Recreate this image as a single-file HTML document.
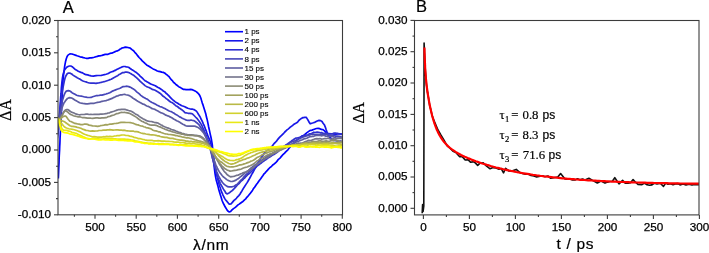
<!DOCTYPE html>
<html><head><meta charset="utf-8"><style>
html,body{margin:0;padding:0;background:#fff;}
svg{display:block;will-change:transform;}
.tl{font-family:"Liberation Sans",sans-serif;font-size:11.7px;fill:#000;stroke:#000;stroke-width:0.25px;}
.lg{font-family:"Liberation Sans",sans-serif;font-size:8px;fill:#000;stroke:#000;stroke-width:0.12px;}
.pl{font-family:"Liberation Sans",sans-serif;font-size:16.5px;fill:#000;stroke:#000;stroke-width:0.2px;}
.yl{font-family:"Liberation Serif",serif;font-size:15.8px;fill:#000;stroke:#000;stroke-width:0.2px;}
.xl{font-family:"Liberation Sans",sans-serif;font-size:15.5px;letter-spacing:0.7px;fill:#000;stroke:#000;stroke-width:0.2px;}
.tau text{font-family:"Liberation Serif",serif;font-size:12.8px;fill:#000;stroke:#000;stroke-width:0.2px;}
.tau text.sb{font-size:8.6px;}
.tau text.ps{font-family:"Liberation Sans",sans-serif;font-size:12px;}
</style></head><body>
<svg width="709" height="253" viewBox="0 0 709 253">
<rect width="709" height="253" fill="#fff"/>
<defs><clipPath id="ca"><rect x="58" y="20.5" width="284.5" height="194.3"/></clipPath><clipPath id="cb"><rect x="414.5" y="20.5" width="284.5" height="194.4"/></clipPath></defs>
<g clip-path="url(#ca)"><polyline points="58.3,178.5 58.4,176.7 58.5,174.7 58.6,172.2 58.7,169.6 58.8,166.6 59.0,163.2 59.1,159.7 59.2,156.7 59.4,153.1 59.6,149.6 59.7,146.5 59.9,143.2 60.0,140.2 60.1,137.2 60.3,134.3 60.4,131.0 60.6,128.1 60.7,125.2 60.9,122.0 61.0,119.0 61.2,116.0 61.3,112.7 61.5,110.1 61.6,107.4 61.8,104.6 61.9,102.0 62.0,100.1 62.2,95.5 62.4,91.9 62.5,88.9 62.6,86.0 62.8,83.3 63.0,80.1 63.3,77.4 63.6,74.5 64.0,71.8 64.3,69.2 64.7,66.2 65.1,63.8 65.5,61.8 66.3,58.7 67.1,56.5 68.0,55.1 69.9,53.9 72.0,54.0 73.5,54.5 76.0,55.4 77.1,55.8 78.5,56.2 80.1,56.8 81.8,57.1 83.4,57.6 85.1,58.0 86.6,58.3 88.0,58.3 89.8,57.9 91.3,57.9 92.7,57.7 94.2,57.3 96.0,56.7 97.3,56.4 98.8,55.9 100.4,55.8 102.0,55.4 103.6,54.9 105.2,54.4 106.7,54.4 108.0,54.3 109.9,53.4 111.6,53.2 113.1,52.6 114.6,51.9 116.0,51.3 117.3,50.9 118.6,50.3 119.8,49.3 120.9,48.7 122.0,48.0 123.7,47.6 125.4,47.1 127.0,47.3 128.5,47.7 130.0,48.0 132.0,49.6 132.8,50.2 133.8,51.0 134.8,52.3 135.8,53.3 136.9,54.7 138.0,56.1 139.1,57.5 140.1,58.5 141.0,59.4 142.5,61.2 143.9,62.4 145.2,63.7 146.6,64.9 148.0,65.7 149.3,66.5 150.5,67.3 151.8,68.1 153.1,68.9 154.5,69.6 156.0,70.3 157.3,71.0 158.7,71.3 160.2,71.6 161.7,72.1 163.2,72.4 164.6,73.0 166.0,74.2 167.0,74.9 168.1,75.9 169.1,76.7 170.0,78.0 171.0,79.3 172.0,80.3 173.0,81.6 174.0,82.8 175.0,83.5 176.3,84.8 177.7,85.8 179.1,86.9 180.5,87.6 181.9,88.5 183.2,89.3 184.5,89.4 186.1,89.6 187.7,89.7 189.1,89.7 190.6,89.4 192.0,89.6 193.5,90.2 195.0,90.9 196.5,91.9 197.8,93.0 199.0,94.3 200.1,96.2 200.9,98.2 201.5,100.4 202.3,103.1 203.0,104.9 203.7,107.2 204.5,109.7 205.2,111.9 205.9,114.3 206.4,116.8 207.0,118.9 207.5,121.1 208.0,123.6 208.5,126.2 209.0,128.5 209.5,130.6 209.9,132.6 210.4,134.9 210.9,137.0 211.4,139.5 211.8,141.9 212.3,144.9 212.5,147.1 212.8,149.5 213.0,151.7 213.2,154.1 213.4,156.5 213.6,159.4 213.8,162.0 214.0,164.9 214.3,167.7 214.6,170.1 214.9,172.5 215.3,175.1 215.7,177.4 216.2,179.9 216.8,182.0 217.4,184.2 218.0,186.4 218.6,188.9 219.2,191.0 219.8,193.0 220.4,195.0 221.0,196.8 221.5,198.4 222.0,200.2 223.2,203.2 224.2,205.0 225.1,206.8 226.0,208.2 227.1,210.2 228.2,211.3 229.3,212.0 230.6,211.5 232.0,209.9 233.5,208.6 234.6,207.9 235.6,207.1 236.7,206.1 238.0,204.9 239.2,204.1 240.4,203.2 241.8,202.2 243.2,201.2 244.8,199.6 245.7,198.9 246.6,197.6 247.5,196.7 248.5,195.5 249.5,194.3 250.5,193.1 251.5,191.7 252.6,190.2 253.6,188.4 254.6,187.3 255.6,185.7 256.6,184.2 257.6,183.0 258.6,181.5 259.7,180.0 260.7,178.7 261.7,177.2 262.8,175.7 263.8,174.2 264.9,173.1 266.0,171.8 267.1,170.7 268.2,169.4 269.3,168.2 270.5,167.2 271.6,166.3 272.7,165.0 273.9,164.2 274.9,163.3 276.0,162.3 277.1,161.2 278.2,159.6 279.3,158.7 280.3,157.8 281.4,156.4 282.4,155.2 283.5,154.1 284.6,153.1 285.7,151.9 286.8,150.8 287.9,149.8 289.0,148.3 290.2,146.9 291.3,145.7 292.5,144.5 293.6,143.2 294.7,142.5 295.8,141.7 296.8,140.1 298.2,139.1 299.5,137.9 300.8,136.9 302.1,136.0 303.2,135.5 304.4,134.9 305.5,133.9 307.0,132.6 308.4,131.6 309.8,130.6 311.0,130.3 312.0,130.1 313.6,129.5 315.0,129.0 316.4,128.5 318.1,128.4 319.7,128.7 321.4,129.4 323.0,129.7 324.5,130.9 325.6,132.0 326.5,133.1 327.6,134.4 328.7,135.7 329.9,137.4 331.2,138.5 332.4,139.7 333.9,140.4 335.4,140.4 337.0,140.9 338.5,141.5 340.3,141.2 341.9,141.5 343.0,142.0" fill="none" stroke="rgb(0,0,255)" stroke-width="1.7" stroke-linejoin="round"/><polyline points="57.0,140.0 57.2,138.6 57.5,137.0 57.8,134.8 58.1,131.7 58.5,128.2 58.7,126.1 58.9,123.3 59.1,120.6 59.3,117.5 59.5,114.7 59.7,111.6 59.9,108.7 60.1,105.7 60.3,102.8 60.5,100.2 60.7,97.0 61.0,93.7 61.2,90.7 61.4,87.6 61.7,84.7 61.9,82.4 62.2,79.9 62.5,77.7 63.0,74.9 63.5,73.1 64.1,71.3 64.7,69.7 65.5,68.8 66.7,67.3 68.0,66.5 69.4,66.0 70.8,66.0 72.2,66.7 73.5,67.8 74.9,69.2 76.2,69.9 77.8,71.0 79.4,71.7 81.0,72.4 82.6,72.9 84.1,73.9 86.0,74.7 87.6,74.9 89.2,75.4 91.1,75.8 93.4,76.1 94.7,75.9 96.2,75.7 97.9,75.5 99.6,75.5 101.3,75.4 102.9,75.0 104.5,74.6 106.0,74.2 107.6,73.7 109.0,73.1 110.4,72.3 111.8,71.8 113.1,71.4 114.5,70.6 115.8,70.1 117.1,69.3 118.4,68.7 119.7,68.1 121.0,67.4 122.3,66.8 123.6,66.5 125.0,66.5 126.3,66.9 127.6,67.0 128.9,67.5 130.2,68.5 131.6,69.5 132.9,70.3 134.2,71.1 135.5,72.1 136.7,72.8 137.9,73.8 139.0,74.8 140.1,76.1 141.3,77.2 142.4,78.2 143.7,79.5 145.0,80.7 146.2,81.3 147.4,82.1 148.7,82.7 150.0,83.6 151.4,84.2 152.7,84.7 154.0,85.2 155.3,85.7 156.5,86.5 157.6,87.2 159.2,88.0 160.7,89.0 162.0,89.9 163.3,91.0 164.6,91.7 166.0,93.2 167.1,94.0 168.2,95.1 169.2,96.1 170.3,97.4 171.5,98.6 172.6,99.6 173.8,100.6 175.0,101.6 176.3,102.6 177.7,103.3 179.1,104.2 180.6,105.1 182.0,105.7 183.4,106.2 184.8,106.7 186.0,107.4 187.8,108.2 189.6,108.7 191.2,109.1 192.7,109.2 194.0,109.6 195.4,110.4 196.6,111.4 197.6,112.9 198.7,114.7 199.5,116.1 200.3,117.2 201.0,119.0 201.8,120.4 202.6,122.1 203.4,124.1 204.1,125.5 204.8,127.2 205.5,129.4 206.3,131.2 206.9,133.1 207.6,135.0 208.2,136.7 209.1,138.6 209.9,140.5 210.6,142.4 211.3,144.9 211.8,146.9 212.2,149.3 212.6,152.0 213.0,154.4 213.5,157.2 214.0,159.8 214.4,162.1 214.9,164.8 215.4,167.2 215.9,170.1 216.4,172.9 216.9,175.2 217.4,177.9 218.0,180.0 218.6,182.3 219.1,184.4 219.7,186.3 220.4,188.3 221.0,190.2 221.6,192.0 222.3,193.4 223.0,195.1 223.9,197.0 224.8,198.6 225.7,200.0 226.7,201.1 227.7,202.4 228.5,203.3 229.3,204.1 231.2,203.8 233.0,201.6 234.0,200.4 235.2,199.5 236.4,198.3 237.6,196.8 238.8,195.6 239.9,194.2 240.9,192.5 241.8,191.2 242.9,189.2 244.0,187.4 244.9,186.1 245.8,184.6 246.8,183.1 247.8,181.5 248.8,179.8 249.8,178.0 250.7,176.3 251.7,174.4 252.7,172.8 253.6,171.2 254.5,169.4 255.5,167.6 256.6,165.5 257.4,164.0 258.2,162.6 259.1,161.3 260.0,159.5 260.9,158.1 261.9,156.6 262.8,155.4 263.7,154.1 264.5,152.9 265.7,151.6 266.7,150.7 267.8,150.0 268.9,149.1 270.1,148.3 271.5,146.7 272.4,145.7 273.3,144.6 274.2,143.4 275.2,142.5 276.3,141.4 277.3,140.0 278.4,138.6 279.5,137.4 280.5,136.4 281.6,135.4 282.6,134.4 283.7,133.3 284.8,132.0 285.9,131.0 287.0,129.9 288.1,129.1 289.2,128.2 290.3,127.2 291.4,126.3 292.5,125.6 293.6,124.5 294.9,123.7 296.2,123.0 297.5,122.2 298.8,120.5 300.1,119.4 301.4,118.4 302.6,117.7 303.7,117.6 304.7,117.3 306.2,117.3 307.4,119.1 308.4,120.8 309.3,122.5 310.2,123.8 311.8,123.2 313.4,122.8 315.2,122.1 317.2,121.0 319.0,120.4 320.6,120.6 322.0,121.5 323.1,123.3 324.3,124.7 325.3,127.1 326.1,129.6 326.9,131.8 327.6,133.8 328.7,135.9 330.0,136.8 331.9,135.4 334.0,134.8 335.9,134.4 338.0,133.6 339.8,133.9 341.7,134.2 343.0,135.0" fill="none" stroke="rgb(23,23,232)" stroke-width="1.7" stroke-linejoin="round"/><polyline points="57.0,135.0 57.4,133.8 57.9,132.1 58.5,128.2 58.7,126.0 58.9,123.7 59.2,120.9 59.4,117.6 59.7,114.6 60.0,111.4 60.2,108.4 60.5,105.3 60.7,102.6 61.0,100.0 61.4,96.9 61.8,94.1 62.2,91.6 62.7,89.2 63.1,87.2 63.5,85.1 64.1,82.0 64.7,79.4 65.3,77.3 66.0,75.7 67.0,74.0 68.1,73.1 69.5,73.0 70.6,73.4 71.7,74.0 73.0,75.1 74.4,76.0 76.0,76.9 77.2,77.8 78.6,78.5 80.0,79.1 81.5,80.2 83.0,81.0 84.5,81.5 86.0,81.9 87.6,82.5 89.2,83.0 90.8,83.1 92.4,83.1 94.1,83.2 96.0,83.4 97.2,83.1 98.5,83.0 99.9,82.7 101.3,82.3 102.7,82.0 104.1,81.7 105.6,81.2 107.1,80.7 108.5,80.2 110.0,79.6 111.2,79.3 112.5,78.5 113.8,77.7 115.1,77.1 116.4,76.3 117.7,75.7 119.0,74.6 120.3,74.0 121.5,73.3 122.7,72.6 123.9,72.6 125.0,72.2 126.5,72.0 128.0,72.4 129.3,72.8 130.6,73.6 131.8,74.3 133.1,75.0 134.3,75.8 135.5,76.9 136.7,77.8 137.9,79.0 139.1,80.1 140.2,81.4 141.4,82.4 142.5,83.4 143.7,84.4 145.0,85.6 146.3,86.4 147.6,87.0 149.0,87.5 150.4,88.3 151.8,89.1 153.2,89.7 154.6,90.0 156.0,90.7 157.2,91.4 158.4,92.2 159.6,93.0 160.8,93.9 162.0,95.1 163.2,96.3 164.4,97.0 165.7,98.2 167.0,99.1 168.1,100.0 169.3,101.0 170.6,102.0 171.9,102.5 173.2,103.4 174.5,104.5 175.7,105.7 176.9,106.2 178.0,107.0 179.1,108.0 180.0,108.5 181.7,109.7 182.9,110.7 184.0,111.7 184.9,112.6 186.0,112.8 188.0,113.3 189.9,113.3 191.6,113.6 192.9,114.3 194.1,115.5 195.5,117.0 196.4,117.9 197.4,118.9 198.4,120.3 199.5,121.7 200.6,123.4 201.8,125.4 202.5,127.0 203.2,128.6 204.0,130.4 204.7,132.1 205.5,133.9 206.3,135.7 207.1,137.8 207.8,139.5 208.5,141.5 209.1,143.4 209.7,145.1 210.4,147.2 210.9,149.3 211.3,151.6 211.7,153.7 212.1,155.9 212.5,158.0 213.0,160.1 213.5,162.2 214.0,164.2 214.5,166.0 215.1,168.1 215.6,170.0 216.2,172.2 216.8,174.5 217.4,176.1 218.0,178.0 218.7,179.6 219.5,181.3 220.2,183.3 221.0,184.8 221.8,186.1 222.5,187.4 223.3,188.9 224.0,190.0 225.1,191.6 225.8,193.0 227.0,193.9 229.0,192.9 229.7,192.5 230.5,191.8 231.4,191.3 232.4,190.4 233.4,189.5 234.4,188.4 235.5,187.1 236.7,185.8 237.8,184.5 239.0,183.6 240.1,182.2 241.3,180.9 242.4,180.2 243.5,178.9 244.5,178.1 245.5,176.9 246.7,175.8 247.8,174.6 248.9,173.8 250.0,172.8 251.0,171.8 252.1,170.9 253.1,170.0 254.2,168.8 255.3,167.8 256.3,166.8 257.4,165.7 258.5,165.0 259.7,164.1 260.9,163.3 262.2,162.1 263.5,161.2 264.8,160.3 266.1,159.5 267.5,158.4 268.8,157.5 270.2,156.8 271.5,155.8 272.7,155.1 273.9,154.5 275.0,153.7 276.0,153.1 277.5,152.0 278.7,150.9 279.8,150.0 280.8,149.5 281.8,148.5 282.8,147.7 283.8,146.7 285.0,145.7 286.1,144.8 287.2,144.3 288.2,143.5 289.3,142.6 290.5,141.8 291.7,140.8 293.0,140.0 294.4,139.0 296.0,138.1 297.2,138.0 298.6,137.7 300.0,137.3 301.6,136.4 303.2,136.0 304.8,135.1 306.4,135.1 308.0,134.9 309.6,133.8 311.1,133.9 312.5,132.9 313.8,132.2 315.0,132.5 317.1,132.1 318.8,132.3 320.2,132.8 321.6,132.5 322.9,133.4 324.5,133.3 326.0,133.4 327.7,133.3 329.3,133.7 331.0,133.9 332.7,133.5 334.2,133.1 335.6,133.2 337.9,133.7 340.0,133.8 341.8,134.2 343.0,135.3" fill="none" stroke="rgb(46,46,209)" stroke-width="1.7" stroke-linejoin="round"/><polyline points="57.0,130.0 57.6,128.6 58.5,125.2 58.8,123.3 59.1,120.9 59.5,118.2 59.8,115.1 60.2,112.2 60.5,109.9 61.0,107.1 61.4,104.9 61.9,102.8 62.4,100.6 63.2,98.0 64.1,95.1 65.0,93.0 66.3,91.1 68.3,90.6 69.4,90.8 70.6,91.5 72.0,92.7 73.4,93.4 75.0,94.3 76.6,95.2 78.1,95.7 79.6,96.0 81.3,96.2 82.9,96.5 84.6,97.0 86.1,97.2 87.6,97.5 89.4,97.5 91.1,97.4 92.6,96.7 94.3,96.2 96.0,95.7 97.5,95.6 98.9,95.5 100.3,95.2 101.9,95.1 103.8,94.6 106.0,94.0 107.1,93.6 108.3,93.3 109.7,92.7 111.1,91.9 112.5,91.1 114.0,90.5 115.6,89.9 117.1,89.3 118.6,88.8 120.0,88.2 121.4,87.4 122.7,86.7 123.9,86.6 125.0,86.5 127.1,86.2 128.7,86.6 130.0,87.1 131.3,87.7 132.5,88.5 133.9,89.3 135.0,90.2 136.2,91.3 137.3,92.3 138.4,93.2 139.6,94.2 140.8,95.3 142.1,96.3 143.4,97.2 144.5,97.8 145.7,98.5 146.9,99.1 148.1,99.8 149.4,100.8 150.7,101.8 152.0,102.5 153.3,103.1 154.7,103.7 156.0,104.4 157.2,105.2 158.5,105.8 159.7,106.5 161.0,106.8 162.2,107.3 163.5,107.9 164.8,108.5 166.1,109.3 167.4,110.0 168.7,110.7 170.0,111.2 171.3,111.6 172.7,112.5 174.1,113.3 175.4,114.2 176.8,114.9 178.2,115.9 179.6,116.9 180.9,117.4 182.2,118.2 183.4,118.8 184.5,119.3 186.4,120.1 188.1,120.4 189.7,120.3 191.1,120.0 192.6,120.5 194.0,120.7 195.2,121.4 196.4,122.5 197.5,123.3 198.6,124.3 199.7,125.8 200.7,127.4 201.8,128.8 202.6,130.1 203.5,131.7 204.4,133.3 205.2,135.2 206.1,137.5 206.9,139.2 207.6,141.1 208.3,142.9 209.0,144.7 209.7,147.1 210.3,149.4 210.9,151.7 211.4,153.8 211.9,156.0 212.4,157.7 213.0,159.8 213.6,162.1 214.2,163.7 214.8,165.7 215.4,167.8 216.0,169.6 216.7,171.6 217.3,173.2 218.0,174.7 218.8,176.8 219.7,178.1 220.6,179.7 221.4,180.8 222.3,182.2 223.2,183.3 224.0,184.2 225.3,185.2 226.4,185.9 227.6,186.7 229.0,186.8 230.6,186.8 232.2,186.8 234.1,186.3 236.0,184.9 236.9,184.5 237.8,183.6 238.8,182.5 239.8,181.3 240.8,180.3 241.9,179.5 242.9,178.2 243.9,176.9 245.0,175.7 246.0,174.6 247.1,173.6 248.1,172.9 249.1,171.5 250.2,170.3 251.3,169.5 252.4,168.6 253.7,167.5 255.0,166.1 256.0,165.1 257.0,164.5 258.1,163.6 259.2,162.8 260.4,161.7 261.6,160.6 262.8,159.8 264.0,159.2 265.2,158.4 266.4,157.5 267.6,156.6 268.8,155.8 270.0,155.0 271.2,154.2 272.3,153.6 273.5,152.7 274.7,152.0 276.0,151.5 277.2,150.8 278.3,149.8 279.5,149.4 280.7,148.8 281.8,147.8 282.9,147.1 284.0,146.4 285.0,145.7 286.4,145.3 287.6,144.5 288.7,144.0 289.7,143.0 290.8,142.2 291.9,141.9 293.1,141.4 294.4,141.0 296.0,140.3 297.1,139.7 298.3,139.5 299.6,138.3 301.0,138.0 302.4,137.5 303.8,136.6 305.2,136.4 306.7,135.8 308.2,135.5 309.6,135.0 311.0,134.5 312.4,134.2 313.7,134.2 315.0,134.6 316.7,134.6 318.3,134.6 319.9,134.6 321.4,134.0 322.9,134.6 324.3,134.2 325.8,134.0 327.2,134.4 328.6,135.0 330.0,134.9 331.8,135.3 333.7,135.3 335.6,136.2 337.4,136.2 339.2,136.4 340.7,136.7 342.0,137.3 343.0,137.0" fill="none" stroke="rgb(70,70,185)" stroke-width="1.7" stroke-linejoin="round"/><polyline points="57.0,128.0 57.5,127.2 58.5,124.1 58.9,122.3 59.3,120.1 59.8,117.4 60.4,114.8 60.9,112.4 61.5,110.2 62.0,107.9 62.9,105.4 63.9,103.1 64.9,101.7 66.0,100.1 67.5,98.4 69.0,97.7 71.0,97.9 72.2,98.2 73.7,99.2 75.2,100.2 76.7,101.1 78.3,101.9 79.7,102.7 81.3,103.1 82.9,103.4 84.4,103.6 86.0,103.9 87.6,103.8 89.2,103.6 90.8,103.4 92.5,103.3 94.2,103.3 96.0,102.8 97.5,102.4 98.9,102.2 100.4,101.9 102.0,101.3 103.8,101.0 106.0,100.6 107.1,100.2 108.2,99.9 109.5,99.4 110.8,98.9 112.1,98.4 113.5,97.6 114.9,97.0 116.3,96.2 117.8,95.9 119.2,95.3 120.6,94.9 121.9,94.8 123.3,94.5 124.5,94.3 125.9,94.7 127.1,95.0 128.2,95.2 129.4,95.6 130.4,96.3 131.5,96.9 132.7,98.0 133.9,98.7 135.2,99.5 136.6,100.5 138.2,101.5 140.0,102.4 141.0,103.0 142.0,103.6 143.2,104.1 144.3,104.4 145.5,105.3 146.8,106.0 148.1,106.3 149.4,107.0 150.8,107.8 152.2,108.7 153.6,109.0 155.0,109.4 156.4,110.2 157.8,110.9 159.1,111.8 160.5,112.6 161.8,113.0 163.1,113.6 164.4,114.3 165.6,115.1 166.8,115.4 167.9,115.9 169.0,116.3 170.0,116.9 171.8,117.7 173.6,119.0 175.1,119.8 176.6,120.7 178.0,121.2 179.3,121.9 180.5,122.7 181.7,123.6 182.8,124.2 183.9,124.6 184.9,125.4 186.0,125.8 188.0,126.2 189.7,126.2 191.3,126.0 192.7,126.2 194.1,126.0 195.5,126.4 196.9,127.0 198.2,127.6 199.5,128.5 200.7,129.7 201.9,130.9 203.0,132.3 203.8,133.2 204.6,134.5 205.4,136.1 206.2,137.7 206.9,139.4 207.6,141.5 208.3,143.1 209.0,145.1 209.7,147.1 210.3,148.6 210.9,150.7 211.5,152.5 212.1,154.3 212.7,156.1 213.3,157.9 214.0,159.8 214.7,161.6 215.4,163.6 216.0,165.5 216.8,166.8 217.5,168.5 218.3,170.0 219.1,171.4 220.0,172.8 221.0,174.1 222.1,175.5 223.2,176.7 224.4,177.6 225.6,178.6 226.8,179.6 228.0,180.4 229.0,180.8 230.8,181.5 232.5,181.3 234.2,180.9 236.0,180.1 237.0,179.3 238.1,178.8 239.2,177.8 240.3,176.9 241.5,176.0 242.6,175.1 243.8,174.0 245.0,172.8 246.2,172.1 247.3,171.3 248.5,170.3 249.6,169.3 250.8,168.1 252.1,167.3 253.5,166.3 255.0,164.9 256.0,164.4 257.0,163.9 258.1,162.9 259.2,162.3 260.4,161.3 261.6,160.3 262.8,159.7 264.0,158.7 265.2,158.1 266.4,157.3 267.6,156.3 268.8,155.6 270.0,155.1 271.3,154.3 272.5,153.6 273.8,153.0 275.1,152.2 276.5,151.4 277.8,150.7 279.0,150.2 280.3,149.3 281.5,148.5 282.7,148.2 283.9,147.6 285.0,146.9 286.5,146.4 287.8,145.8 289.1,145.1 290.2,144.7 291.5,144.1 292.8,143.5 294.3,142.7 296.0,141.8 297.1,141.7 298.3,141.5 299.6,140.6 301.0,140.1 302.4,139.7 303.8,138.9 305.2,138.7 306.7,138.3 308.2,137.6 309.6,136.7 311.0,136.7 312.4,136.2 313.7,136.3 315.0,135.7 316.7,135.5 318.3,135.2 319.9,135.4 321.4,135.8 322.9,135.5 324.3,135.5 325.8,136.1 327.2,136.1 328.6,136.6 330.0,136.5 331.8,136.4 333.7,136.9 335.6,137.8 337.4,138.2 339.2,138.0 340.7,137.9 342.0,137.4 343.0,138.0" fill="none" stroke="rgb(93,93,162)" stroke-width="1.7" stroke-linejoin="round"/><polyline points="57.0,125.0 57.5,123.9 58.5,121.9 59.3,120.4 60.3,117.9 61.3,116.0 62.4,114.0 63.8,111.9 65.3,110.1 66.8,109.6 68.0,109.6 69.2,110.5 70.5,111.6 72.0,112.4 73.4,112.8 75.0,113.6 76.6,114.1 78.2,114.5 79.7,114.8 81.3,114.5 82.7,114.5 84.2,114.5 86.0,114.1 87.5,114.2 89.1,114.5 90.8,114.4 92.5,114.5 94.3,114.3 96.0,114.4 97.6,114.3 99.0,114.3 100.4,114.1 101.9,114.2 103.8,114.0 106.0,113.6 107.1,113.4 108.3,113.0 109.6,112.8 111.0,112.1 112.4,111.7 113.9,111.3 115.4,110.7 116.9,110.1 118.4,109.7 120.0,109.6 121.5,109.3 123.1,109.4 124.5,109.4 126.0,109.7 127.3,110.1 128.6,110.5 129.9,110.8 131.2,111.2 132.6,112.0 133.9,112.9 135.3,113.9 136.6,114.5 137.9,115.2 139.2,116.4 140.5,117.2 141.7,117.9 142.9,118.7 144.0,119.2 145.0,119.8 146.0,120.4 148.2,121.2 149.9,121.5 151.4,121.5 152.7,121.9 154.2,122.3 156.0,122.6 157.1,122.8 158.3,123.3 159.5,124.1 160.7,124.7 162.0,125.3 163.3,126.2 164.6,126.8 165.9,127.2 167.3,127.9 168.6,128.2 170.0,128.8 171.4,129.5 172.8,129.9 174.3,130.3 175.8,131.0 177.3,131.5 178.8,132.4 180.3,132.6 181.8,133.2 183.3,133.6 184.7,134.1 186.0,134.3 187.8,134.8 189.6,134.9 191.3,134.9 193.0,135.1 194.6,135.4 196.1,135.4 197.4,135.5 198.7,135.8 200.4,136.2 201.6,136.9 202.7,137.7 203.8,138.7 205.0,140.0 206.0,141.0 206.9,142.0 207.9,143.2 208.9,144.8 209.9,146.3 210.9,148.1 212.0,149.8 212.8,151.4 213.5,152.8 214.3,154.4 215.1,156.0 215.9,157.5 216.7,159.1 217.5,160.5 218.3,161.9 219.2,163.7 220.0,165.0 221.0,166.3 221.9,168.1 222.9,169.5 223.9,170.9 224.9,172.2 226.0,173.2 227.0,174.6 228.0,175.2 229.0,175.9 230.5,176.8 231.9,176.6 233.3,176.5 234.8,176.1 236.3,175.4 238.0,175.1 239.2,174.6 240.5,173.9 241.8,173.5 243.1,172.8 244.5,172.4 245.9,172.0 247.3,171.4 248.7,170.3 250.0,169.6 251.2,168.8 252.4,168.0 253.6,167.1 254.8,166.2 255.9,165.2 257.1,164.5 258.3,163.4 259.5,162.8 260.8,161.7 262.0,161.1 263.3,160.1 264.5,159.1 265.8,158.5 267.0,157.7 268.3,157.0 269.6,156.2 270.9,155.4 272.3,154.4 273.6,153.8 275.0,153.0 276.2,152.6 277.4,151.6 278.6,150.8 279.9,150.4 281.1,150.0 282.4,149.3 283.6,148.8 284.9,148.2 286.2,147.5 287.5,147.0 288.7,146.5 290.0,145.8 291.4,145.3 292.7,145.1 294.1,144.6 295.5,144.2 296.8,143.6 298.2,143.2 299.5,143.3 300.9,143.2 302.3,143.3 303.6,142.6 305.0,141.8 306.3,141.4 307.6,140.7 308.9,140.4 310.1,140.5 311.4,140.4 312.6,139.8 314.0,139.3 315.3,138.8 316.8,138.6 318.3,138.8 320.0,138.5 321.3,139.1 322.8,139.0 324.5,138.7 326.2,138.7 327.9,138.2 329.7,138.8 331.5,139.1 333.3,138.8 335.1,139.1 336.7,138.7 338.3,138.5 339.7,138.4 341.0,138.3 342.1,138.8 343.0,139.0" fill="none" stroke="rgb(116,116,139)" stroke-width="1.7" stroke-linejoin="round"/><polyline points="57.0,124.0 57.5,123.5 58.5,122.1 59.3,120.4 60.4,118.7 61.5,116.7 62.5,115.0 63.4,113.1 64.3,111.6 65.5,110.8 66.6,111.2 67.8,112.1 69.1,113.3 70.6,114.5 72.0,115.0 73.5,115.7 75.1,116.2 76.7,116.5 78.2,116.9 79.7,116.8 81.3,117.3 82.7,117.7 84.2,117.6 86.0,117.8 87.5,118.1 89.1,118.0 90.8,118.2 92.5,118.3 94.3,118.1 96.0,117.9 97.6,117.8 99.0,118.1 100.4,118.1 101.9,117.9 103.8,117.8 106.0,117.7 107.1,117.2 108.3,116.6 109.6,116.5 111.0,115.9 112.4,115.3 113.9,115.0 115.4,114.3 116.9,113.6 118.4,113.4 120.0,112.8 121.5,112.4 123.1,112.5 124.5,112.3 126.0,112.7 127.3,112.8 128.6,113.1 129.9,113.5 131.2,114.2 132.6,115.0 133.9,115.8 135.3,116.6 136.6,117.4 137.9,118.5 139.2,119.5 140.5,120.4 141.7,121.2 142.9,121.6 144.0,122.2 145.0,122.7 146.0,123.1 148.2,124.3 149.9,124.9 151.4,125.1 152.7,125.1 154.2,125.0 156.0,125.4 157.2,125.7 158.5,126.5 159.8,126.9 161.2,127.4 162.6,128.3 164.1,128.7 165.5,129.5 167.0,129.9 168.5,130.6 170.0,130.8 171.4,131.5 172.8,131.9 174.3,132.2 175.8,132.7 177.3,133.1 178.8,133.3 180.3,133.6 181.8,134.1 183.3,134.2 184.7,134.8 186.0,134.9 187.8,135.1 189.5,135.3 191.2,135.3 192.9,135.4 194.5,135.7 196.0,135.8 197.4,136.0 198.7,136.3 200.5,137.1 202.0,138.1 203.3,139.1 204.6,140.5 206.0,142.1 206.9,143.0 207.7,144.2 208.6,145.9 209.5,147.4 210.4,148.9 211.3,150.5 212.2,152.3 213.1,153.6 214.0,154.9 215.0,156.4 216.0,157.7 217.0,159.4 218.0,160.9 219.0,162.4 220.0,163.7 221.0,164.9 222.0,166.1 223.3,167.1 224.6,168.6 225.9,169.2 227.2,170.2 228.6,170.5 230.0,171.1 231.6,171.0 233.2,170.7 234.9,170.4 236.6,170.1 238.3,169.7 240.0,169.3 241.4,169.0 242.8,168.3 244.2,167.8 245.6,167.3 247.0,167.0 248.5,166.4 250.0,165.8 251.1,165.3 252.3,164.8 253.4,163.9 254.6,163.2 255.8,162.2 257.0,161.1 258.3,160.5 259.5,159.4 260.8,158.4 262.0,158.0 263.3,157.2 264.5,156.7 265.8,155.9 267.0,155.2 268.3,154.9 269.6,154.1 270.9,153.6 272.3,153.3 273.6,152.5 275.0,152.1 276.2,151.6 277.4,151.1 278.6,150.6 279.9,150.1 281.1,149.2 282.4,148.6 283.6,148.2 284.9,148.0 286.2,147.2 287.5,146.8 288.7,146.2 290.0,146.1 291.4,145.6 292.7,145.3 294.1,145.0 295.5,144.5 296.8,144.6 298.2,144.6 299.5,144.6 300.9,143.7 302.3,143.2 303.6,142.7 305.0,143.2 306.5,142.8 307.9,142.4 309.2,142.2 310.6,142.3 312.0,141.7 313.4,141.4 314.9,141.6 316.5,141.7 318.2,141.1 320.0,140.5 321.3,141.2 322.8,141.3 324.5,141.2 326.2,140.9 327.9,141.4 329.7,141.1 331.5,140.6 333.3,140.3 335.1,140.4 336.7,140.8 338.3,140.7 339.7,141.4 341.0,141.4 342.1,141.1 343.0,141.0" fill="none" stroke="rgb(139,139,116)" stroke-width="1.7" stroke-linejoin="round"/><polyline points="57.0,122.0 57.5,121.9 58.5,121.1 59.5,120.1 60.7,118.8 61.9,117.5 63.0,116.6 64.5,116.1 65.9,116.2 66.9,117.6 68.1,119.3 69.8,121.2 70.9,121.5 72.1,122.1 73.5,122.7 74.9,123.4 76.4,123.7 77.8,124.0 79.0,124.2 80.8,124.6 82.5,124.6 84.1,124.2 86.0,124.2 87.5,124.4 89.1,125.1 90.8,125.4 92.6,125.8 94.3,126.0 96.0,126.2 97.6,126.4 99.0,126.2 100.4,125.7 101.9,125.5 103.8,125.2 106.0,124.7 107.2,124.8 108.5,124.5 109.9,124.2 111.4,124.1 113.0,123.8 114.6,123.5 116.2,123.4 117.9,123.1 119.5,122.7 121.2,122.4 122.8,122.4 124.4,122.3 126.0,122.5 127.5,122.5 128.9,122.5 130.5,122.7 132.0,123.0 133.6,123.4 135.1,124.1 136.6,124.6 138.1,124.9 139.6,125.5 141.0,126.0 142.4,126.1 143.7,126.7 144.9,127.0 146.0,127.6 147.9,127.9 149.5,128.4 150.8,128.8 152.0,129.6 153.1,130.2 154.4,130.6 156.0,130.9 157.2,131.3 158.5,131.8 159.8,131.9 161.2,132.5 162.6,133.0 164.1,133.5 165.5,133.8 167.0,134.0 168.5,134.5 170.0,134.5 171.4,134.7 172.8,134.8 174.3,135.1 175.8,135.6 177.3,135.7 178.7,136.2 180.2,136.4 181.7,136.8 183.2,137.1 184.6,137.4 186.0,137.8 187.5,137.7 189.0,138.0 190.5,138.4 192.0,138.7 193.5,139.2 194.9,139.7 196.3,140.1 197.6,140.6 198.9,140.9 200.0,141.1 201.7,141.6 203.1,142.1 204.4,142.7 205.6,143.1 206.7,143.8 208.0,145.0 208.9,145.9 209.8,147.4 210.7,148.4 211.6,150.0 212.4,151.6 213.3,152.9 214.2,154.5 215.1,155.8 216.0,157.2 217.2,158.6 218.3,159.7 219.5,160.8 220.7,161.9 221.9,162.4 223.0,163.4 224.0,164.2 225.3,165.3 226.4,166.0 227.4,166.5 228.6,166.7 230.0,167.0 231.4,166.8 233.0,166.8 234.8,166.5 236.5,166.1 238.3,165.5 240.0,164.9 241.4,164.8 242.8,164.4 244.2,163.9 245.6,163.5 247.0,162.9 248.5,162.4 250.0,161.7 251.1,161.1 252.3,160.7 253.4,160.2 254.6,159.5 255.8,158.5 257.0,157.6 258.3,157.0 259.5,156.5 260.8,155.8 262.0,154.9 263.4,154.4 264.8,153.8 266.2,153.1 267.6,152.6 269.0,152.0 270.5,151.6 272.0,151.2 273.5,150.8 275.0,150.0 276.3,149.6 277.6,149.4 278.9,149.0 280.3,148.5 281.7,148.3 283.1,147.5 284.5,147.4 285.9,147.1 287.2,146.7 288.6,146.3 290.0,146.0 291.5,145.5 293.0,145.3 294.5,144.9 296.0,145.0 297.5,145.0 299.0,144.5 300.5,144.5 302.0,143.9 303.5,143.7 305.0,143.1 306.5,143.6 307.9,143.6 309.2,143.6 310.6,142.7 312.0,143.1 313.4,142.3 314.9,142.5 316.5,142.5 318.2,142.0 320.0,142.1 321.3,142.8 322.8,142.8 324.5,142.4 326.2,142.9 327.9,142.6 329.7,143.1 331.5,142.8 333.3,142.3 335.1,143.1 336.7,142.5 338.3,142.4 339.7,143.0 341.0,142.5 342.1,142.8 343.0,143.0" fill="none" stroke="rgb(162,162,93)" stroke-width="1.7" stroke-linejoin="round"/><polyline points="57.0,120.0 57.4,120.1 58.5,120.1 60.0,120.2 61.9,120.7 63.9,121.5 65.0,122.1 66.2,123.0 67.3,123.8 68.6,124.7 70.0,125.7 71.4,126.3 72.9,126.3 74.4,126.6 76.0,126.9 77.6,127.5 79.0,127.7 80.8,128.2 82.4,129.1 84.1,129.6 86.0,130.4 87.5,130.5 89.1,130.9 90.8,131.1 92.6,130.9 94.3,131.1 96.0,131.0 97.6,130.8 99.0,130.5 100.4,130.5 101.9,130.3 103.8,130.0 106.0,130.1 107.2,129.9 108.5,129.9 109.9,129.7 111.4,129.8 113.0,130.1 114.6,130.0 116.2,129.9 117.9,129.8 119.5,130.1 121.2,130.0 122.8,130.4 124.4,130.2 126.0,130.6 127.5,130.8 128.9,131.0 130.5,131.1 132.0,131.1 133.6,131.2 135.1,131.7 136.6,131.7 138.1,131.9 139.6,132.5 141.0,133.0 142.4,133.3 143.7,133.6 144.9,133.7 146.0,134.0 148.2,134.3 149.9,134.6 151.4,134.8 152.7,134.8 154.2,135.0 156.0,135.4 157.4,135.8 158.8,135.9 160.3,136.5 161.8,136.8 163.4,137.1 165.0,137.4 166.7,137.4 168.3,137.9 170.0,138.3 171.4,138.3 172.8,138.4 174.3,138.9 175.8,139.3 177.3,139.7 178.7,139.8 180.2,140.1 181.7,140.1 183.2,140.3 184.6,140.6 186.0,141.1 187.7,141.0 189.3,141.5 191.0,141.3 192.6,141.8 194.2,141.7 195.7,142.0 197.2,142.2 198.6,142.5 200.0,142.7 201.6,143.1 203.1,143.4 204.6,144.1 205.9,144.4 207.3,145.4 208.6,146.2 210.0,146.8 211.1,148.0 212.2,148.9 213.3,149.8 214.4,151.0 215.6,152.1 216.7,153.4 217.8,154.8 218.9,156.2 220.0,157.2 221.2,158.4 222.5,159.5 223.8,160.5 225.0,161.4 226.2,162.1 227.5,162.8 228.8,163.5 230.0,163.8 231.4,164.1 232.9,163.8 234.3,163.5 235.7,162.9 237.1,162.3 238.6,161.4 240.0,160.8 241.4,160.5 242.8,159.8 244.2,159.4 245.6,159.1 247.0,158.3 248.5,157.9 250.0,157.2 251.2,156.8 252.5,156.1 253.8,155.5 255.1,154.9 256.5,154.1 257.9,153.5 259.2,153.0 260.6,152.5 262.0,152.1 263.4,151.8 264.8,151.5 266.2,151.1 267.6,150.5 269.0,150.3 270.5,150.0 272.0,149.9 273.5,149.2 275.0,148.8 276.3,148.9 277.6,148.4 278.9,148.3 280.3,148.0 281.7,147.6 283.1,147.3 284.5,147.0 285.9,147.0 287.2,146.6 288.6,146.5 290.0,146.0 291.5,145.9 293.0,145.6 294.5,145.5 296.0,145.3 297.5,144.5 299.0,145.0 300.5,144.8 302.0,144.2 303.5,144.0 305.0,143.5 306.5,143.3 307.9,143.9 309.2,144.0 310.6,144.2 312.0,143.5 313.4,143.0 314.9,143.1 316.5,143.3 318.2,143.7 320.0,143.3 321.3,143.7 322.8,143.7 324.5,143.4 326.2,143.8 327.9,143.2 329.7,143.6 331.5,143.3 333.3,143.0 335.1,143.4 336.7,143.7 338.3,143.9 339.7,143.8 341.0,144.4 342.1,144.5 343.0,144.0" fill="none" stroke="rgb(185,185,70)" stroke-width="1.7" stroke-linejoin="round"/><polyline points="57.0,118.0 57.6,118.1 58.5,118.7 59.5,120.6 61.0,122.7 61.9,123.8 63.0,125.2 64.3,126.8 65.9,127.8 67.3,128.3 68.9,128.8 70.6,129.0 72.4,129.3 74.3,129.8 76.0,130.3 77.4,130.7 78.9,131.4 80.3,131.9 81.7,132.8 83.1,133.6 84.6,134.2 86.0,134.7 87.6,135.4 89.2,135.7 90.8,136.2 92.4,136.8 94.1,136.7 96.0,136.8 97.4,137.2 98.8,137.0 100.3,137.2 101.8,137.1 103.4,136.7 105.0,136.8 106.7,136.4 108.3,136.6 110.0,136.4 111.5,136.6 113.0,136.5 114.5,136.0 116.1,135.8 117.6,135.5 119.2,135.6 120.8,135.2 122.5,135.0 124.2,135.0 126.0,135.5 127.3,135.5 128.6,135.7 129.9,136.1 131.3,136.4 132.7,136.8 134.1,137.4 135.5,137.6 136.9,138.0 138.4,138.6 139.9,138.7 141.4,139.0 142.9,139.5 144.4,139.7 146.0,140.2 147.4,140.4 148.9,140.4 150.4,140.4 151.9,140.4 153.5,140.8 155.1,140.8 156.7,140.8 158.2,140.7 159.8,140.8 161.4,141.1 163.0,141.0 164.5,141.1 165.9,141.3 167.4,141.4 168.7,141.4 170.0,141.5 171.9,141.5 173.7,141.9 175.5,142.2 177.1,142.2 178.6,142.2 180.1,142.6 181.6,142.5 183.1,142.5 184.5,142.8 186.0,143.1 187.7,143.3 189.3,143.1 191.0,143.6 192.6,143.4 194.2,143.5 195.7,144.0 197.2,144.2 198.6,144.4 200.0,144.4 201.6,145.1 203.1,145.5 204.6,145.9 205.9,146.8 207.3,147.7 208.6,148.1 210.0,148.9 211.2,149.8 212.5,150.4 213.8,151.1 215.0,152.0 216.2,152.7 217.5,153.8 218.8,154.6 220.0,155.3 221.4,156.1 222.9,156.8 224.3,157.9 225.7,158.8 227.1,159.5 228.6,160.2 230.0,160.4 231.7,160.5 233.3,160.7 235.0,160.2 236.7,159.6 238.3,159.4 240.0,158.7 241.4,158.1 242.8,157.2 244.2,156.1 245.6,155.2 247.0,154.6 248.5,153.6 250.0,153.2 251.2,152.5 252.5,152.3 253.8,151.7 255.1,151.4 256.5,150.9 257.9,150.5 259.2,150.4 260.6,150.1 262.0,150.0 263.6,149.5 265.1,149.3 266.7,149.0 268.3,149.0 269.9,148.6 271.6,148.4 273.3,148.4 275.0,148.1 276.4,147.7 277.9,147.8 279.4,147.3 280.9,146.9 282.4,146.6 283.9,146.5 285.4,146.6 287.0,146.3 288.5,146.0 290.0,146.1 291.5,145.7 293.0,145.4 294.5,145.5 296.0,145.2 297.5,145.3 299.0,144.8 300.5,145.1 302.0,145.5 303.5,145.2 305.0,144.8 306.5,145.0 307.9,145.2 309.2,144.5 310.6,144.4 312.0,144.5 313.4,144.7 314.9,144.6 316.5,145.0 318.2,144.7 320.0,145.3 321.3,145.0 322.8,144.7 324.5,144.4 326.2,144.3 327.9,144.4 329.7,145.3 331.5,145.2 333.3,145.2 335.1,145.8 336.7,146.2 338.3,146.1 339.7,145.5 341.0,145.3 342.1,145.4 343.0,145.5" fill="none" stroke="rgb(209,209,46)" stroke-width="1.7" stroke-linejoin="round"/><polyline points="57.0,117.0 57.4,117.4 58.0,118.4 58.5,119.5 59.3,121.4 59.9,123.4 60.6,125.6 61.4,127.7 62.3,129.3 63.6,130.2 65.1,130.3 67.0,130.3 68.1,130.9 69.2,131.2 70.5,131.5 71.8,132.2 73.2,132.7 74.6,133.0 76.0,133.3 77.4,134.0 78.8,134.7 80.2,135.4 81.7,136.0 83.1,136.8 84.6,137.4 86.0,138.0 87.4,138.4 88.6,138.5 89.8,138.8 91.2,138.7 93.2,138.5 96.0,138.6 97.1,138.5 98.2,138.6 99.5,139.0 100.9,139.1 102.3,139.1 103.8,138.8 105.4,138.7 107.0,138.6 108.7,138.7 110.4,138.8 112.1,138.6 113.8,138.8 115.4,138.8 117.1,139.0 118.7,139.1 120.3,139.0 121.9,139.1 123.3,139.0 124.7,139.1 126.0,139.3 127.7,139.3 129.3,139.6 130.9,139.9 132.3,140.0 133.7,140.3 135.1,140.9 136.4,141.1 137.7,141.3 139.0,141.5 140.3,142.0 141.6,142.2 143.0,142.5 144.5,142.7 146.0,142.8 147.4,143.0 148.9,143.3 150.4,143.1 151.9,143.4 153.5,143.4 155.1,143.7 156.7,143.9 158.2,143.6 159.8,143.8 161.4,143.7 163.0,143.6 164.5,143.9 165.9,144.1 167.4,144.2 168.7,144.1 170.0,144.3 171.9,144.3 173.7,144.4 175.5,144.5 177.1,144.7 178.6,144.8 180.1,144.7 181.6,144.6 183.1,144.8 184.5,144.9 186.0,144.9 187.7,145.2 189.3,145.4 191.0,145.4 192.6,145.4 194.2,145.5 195.7,145.3 197.2,145.6 198.6,145.5 200.0,145.9 201.9,146.3 203.8,146.5 205.5,146.9 207.1,147.5 208.6,148.0 210.0,148.6 211.8,149.0 213.4,150.0 214.7,150.5 216.0,151.0 217.8,151.5 220.0,152.1 221.1,152.5 222.4,153.0 223.9,153.7 225.4,154.2 227.0,154.9 228.5,155.7 230.0,155.8 231.7,155.9 233.3,156.2 235.0,156.0 236.7,155.8 238.3,155.5 240.0,155.1 241.4,154.5 242.8,154.0 244.2,153.0 245.6,152.5 247.0,151.7 248.5,151.1 250.0,150.4 251.4,150.2 252.8,149.8 254.3,149.6 255.8,149.2 257.3,149.2 258.9,149.1 260.4,148.7 262.0,148.6 263.6,148.6 265.1,148.1 266.7,147.7 268.3,147.8 269.9,147.8 271.6,147.3 273.3,147.3 275.0,147.3 276.4,146.9 277.9,146.9 279.4,146.6 280.9,146.6 282.4,146.5 283.9,146.3 285.4,146.0 287.0,146.1 288.5,146.2 290.0,145.9 291.5,145.7 293.0,145.6 294.5,145.6 296.0,146.0 297.5,146.3 299.0,146.6 300.5,146.6 302.0,145.9 303.5,145.8 305.0,146.4 306.5,146.6 307.9,146.9 309.2,146.8 310.6,146.6 312.0,146.6 313.4,146.8 314.9,146.3 316.5,145.5 318.2,145.5 320.0,145.2 321.3,145.4 322.8,145.9 324.5,145.8 326.2,145.7 327.9,145.6 329.7,145.8 331.5,146.2 333.3,146.5 335.1,147.1 336.7,146.5 338.3,146.4 339.7,146.1 341.0,147.1 342.1,147.2 343.0,147.0" fill="none" stroke="rgb(232,232,23)" stroke-width="1.7" stroke-linejoin="round"/><polyline points="57.0,118.0 57.4,118.0 58.2,119.4 58.8,121.3 59.6,124.6 60.4,127.6 61.1,130.0 62.2,131.6 63.5,132.3 64.8,132.6 66.3,132.8 68.2,133.2 69.5,133.8 71.0,134.1 72.6,134.4 74.2,134.9 76.0,135.5 77.5,135.9 79.2,136.4 80.9,137.1 82.6,137.6 84.3,138.1 86.0,138.3 87.4,138.8 88.6,139.1 89.8,139.2 91.2,139.0 93.2,139.0 96.0,139.5 97.1,139.7 98.2,139.8 99.5,139.7 100.9,139.8 102.3,139.6 103.8,139.7 105.4,140.0 107.0,139.8 108.7,139.9 110.4,140.1 112.1,140.1 113.8,140.0 115.4,139.9 117.1,140.1 118.7,140.4 120.3,140.5 121.9,140.3 123.3,140.5 124.7,140.6 126.0,140.6 127.7,140.8 129.3,140.9 130.9,140.9 132.3,141.0 133.7,141.5 135.1,141.9 136.4,141.8 137.7,141.9 139.0,142.2 140.3,142.5 141.6,142.9 143.0,143.0 144.5,143.3 146.0,143.5 147.4,143.5 148.9,143.9 150.4,143.9 151.9,143.9 153.5,144.1 155.1,144.0 156.7,143.9 158.2,144.3 159.8,144.4 161.4,144.3 163.0,144.3 164.5,144.4 165.9,144.3 167.4,144.1 168.7,144.3 170.0,144.7 171.9,144.5 173.7,144.9 175.5,144.8 177.1,145.2 178.6,145.3 180.1,145.1 181.6,145.1 183.1,145.4 184.5,145.7 186.0,145.8 187.7,145.8 189.3,145.8 191.0,145.9 192.6,146.0 194.2,146.1 195.7,145.9 197.2,146.1 198.6,146.4 200.0,146.4 201.9,146.3 203.6,146.5 205.2,147.1 206.8,147.4 208.4,148.1 210.0,148.5 211.7,148.9 213.3,149.1 215.0,149.6 216.7,150.1 218.3,150.8 220.0,151.3 221.4,151.5 222.9,152.0 224.3,152.7 225.7,152.9 227.1,153.1 228.6,153.5 230.0,154.0 231.7,154.1 233.3,154.3 235.0,154.3 236.7,154.3 238.3,153.7 240.0,153.5 241.4,153.3 242.8,152.9 244.2,152.4 245.6,151.8 247.0,151.2 248.5,150.7 250.0,150.2 251.4,149.6 252.8,149.2 254.3,149.2 255.8,148.8 257.3,148.6 258.9,148.6 260.4,148.4 262.0,148.2 263.6,147.9 265.1,147.7 266.7,147.3 268.3,147.2 269.9,147.0 271.6,147.1 273.3,147.0 275.0,146.8 276.4,146.9 277.9,146.6 279.4,146.6 280.9,146.4 282.4,146.5 283.9,146.4 285.4,146.7 287.0,146.5 288.5,146.7 290.0,146.5 291.5,146.4 293.0,146.6 294.5,146.4 296.0,146.4 297.5,146.6 299.0,147.1 300.5,147.0 302.0,146.2 303.5,146.3 305.0,147.0 306.5,147.2 307.9,146.7 309.2,146.3 310.6,146.2 312.0,146.8 313.4,146.4 314.9,147.1 316.5,146.8 318.2,147.1 320.0,147.3 321.3,146.9 322.8,147.0 324.5,147.2 326.2,146.9 327.9,147.1 329.7,147.3 331.5,147.9 333.3,147.3 335.1,147.0 336.7,147.2 338.3,147.4 339.7,147.4 341.0,148.0 342.1,147.4 343.0,147.5" fill="none" stroke="rgb(255,255,0)" stroke-width="1.7" stroke-linejoin="round"/></g>
<rect x="58" y="20.5" width="284.5" height="194.3" fill="none" stroke="#3c3c3c" stroke-width="1.1"/>
<text x="51" y="218.1" text-anchor="end" class="tl">-0.010</text>
<text x="51" y="185.7" text-anchor="end" class="tl">-0.005</text>
<text x="51" y="153.3" text-anchor="end" class="tl">0.000</text>
<text x="51" y="120.9" text-anchor="end" class="tl">0.005</text>
<text x="51" y="88.5" text-anchor="end" class="tl">0.010</text>
<text x="51" y="56.1" text-anchor="end" class="tl">0.015</text>
<text x="51" y="23.8" text-anchor="end" class="tl">0.020</text>
<text x="95.0" y="230.6" text-anchor="middle" class="tl">500</text>
<text x="136.2" y="230.6" text-anchor="middle" class="tl">550</text>
<text x="177.4" y="230.6" text-anchor="middle" class="tl">600</text>
<text x="218.7" y="230.6" text-anchor="middle" class="tl">650</text>
<text x="259.9" y="230.6" text-anchor="middle" class="tl">700</text>
<text x="301.1" y="230.6" text-anchor="middle" class="tl">750</text>
<text x="342.3" y="230.6" text-anchor="middle" class="tl">800</text>
<g stroke="#3c3c3c" stroke-width="1.1"><line x1="54" y1="214.8" x2="58" y2="214.8"/><line x1="56" y1="198.6" x2="58" y2="198.6"/><line x1="54" y1="182.4" x2="58" y2="182.4"/><line x1="56" y1="166.2" x2="58" y2="166.2"/><line x1="54" y1="150.0" x2="58" y2="150.0"/><line x1="56" y1="133.8" x2="58" y2="133.8"/><line x1="54" y1="117.6" x2="58" y2="117.6"/><line x1="56" y1="101.4" x2="58" y2="101.4"/><line x1="54" y1="85.2" x2="58" y2="85.2"/><line x1="56" y1="69.0" x2="58" y2="69.0"/><line x1="54" y1="52.8" x2="58" y2="52.8"/><line x1="56" y1="36.7" x2="58" y2="36.7"/><line x1="54" y1="20.5" x2="58" y2="20.5"/><line x1="74.4" y1="214.8" x2="74.4" y2="216.8"/><line x1="95.0" y1="214.8" x2="95.0" y2="218.8"/><line x1="115.6" y1="214.8" x2="115.6" y2="216.8"/><line x1="136.2" y1="214.8" x2="136.2" y2="218.8"/><line x1="156.8" y1="214.8" x2="156.8" y2="216.8"/><line x1="177.4" y1="214.8" x2="177.4" y2="218.8"/><line x1="198.1" y1="214.8" x2="198.1" y2="216.8"/><line x1="218.7" y1="214.8" x2="218.7" y2="218.8"/><line x1="239.3" y1="214.8" x2="239.3" y2="216.8"/><line x1="259.9" y1="214.8" x2="259.9" y2="218.8"/><line x1="280.5" y1="214.8" x2="280.5" y2="216.8"/><line x1="301.1" y1="214.8" x2="301.1" y2="218.8"/><line x1="321.7" y1="214.8" x2="321.7" y2="216.8"/><line x1="342.3" y1="214.8" x2="342.3" y2="218.8"/></g>
<line x1="225" y1="31.7" x2="243" y2="31.7" stroke="rgb(0,0,255)" stroke-width="1.6"/>
<text x="244.5" y="34.3" class="lg">1 ps</text>
<line x1="225" y1="40.8" x2="243" y2="40.8" stroke="rgb(23,23,232)" stroke-width="1.6"/>
<text x="244.5" y="43.4" class="lg">2 ps</text>
<line x1="225" y1="49.8" x2="243" y2="49.8" stroke="rgb(46,46,209)" stroke-width="1.6"/>
<text x="244.5" y="52.4" class="lg">4 ps</text>
<line x1="225" y1="58.9" x2="243" y2="58.9" stroke="rgb(70,70,185)" stroke-width="1.6"/>
<text x="244.5" y="61.5" class="lg">8 ps</text>
<line x1="225" y1="68.0" x2="243" y2="68.0" stroke="rgb(93,93,162)" stroke-width="1.6"/>
<text x="244.5" y="70.6" class="lg">15 ps</text>
<line x1="225" y1="77.0" x2="243" y2="77.0" stroke="rgb(116,116,139)" stroke-width="1.6"/>
<text x="244.5" y="79.6" class="lg">30 ps</text>
<line x1="225" y1="86.1" x2="243" y2="86.1" stroke="rgb(139,139,116)" stroke-width="1.6"/>
<text x="244.5" y="88.7" class="lg">50 ps</text>
<line x1="225" y1="95.2" x2="243" y2="95.2" stroke="rgb(162,162,93)" stroke-width="1.6"/>
<text x="244.5" y="97.8" class="lg">100 ps</text>
<line x1="225" y1="104.3" x2="243" y2="104.3" stroke="rgb(185,185,70)" stroke-width="1.6"/>
<text x="244.5" y="106.9" class="lg">200 ps</text>
<line x1="225" y1="113.3" x2="243" y2="113.3" stroke="rgb(209,209,46)" stroke-width="1.6"/>
<text x="244.5" y="115.9" class="lg">600 ps</text>
<line x1="225" y1="122.4" x2="243" y2="122.4" stroke="rgb(232,232,23)" stroke-width="1.6"/>
<text x="244.5" y="125.0" class="lg">1 ns</text>
<line x1="225" y1="131.5" x2="243" y2="131.5" stroke="rgb(255,255,0)" stroke-width="1.6"/>
<text x="244.5" y="134.1" class="lg">2 ns</text>
<text x="62.8" y="12.6" class="pl">A</text>
<text transform="translate(11.2,110) rotate(-90)" text-anchor="middle" class="yl">ΔA</text>
<text x="193" y="249.8" class="xl">λ/nm</text>
<g clip-path="url(#cb)"><polyline points="422.2,213.3 422.6,204.5 423.1,211.4 423.8,205.8 424.1,43.0 424.9,61.4 425.2,68.6 425.6,74.6 426.0,79.1 426.3,83.1 426.7,86.1 427.1,88.6 427.4,91.5 427.8,93.7 428.2,96.4 428.6,98.5 428.9,100.7 429.8,106.2 430.8,109.6 431.7,113.6 432.6,117.1 434.0,120.5 436.0,125.3 438.0,130.0 441.0,135.2 444.0,140.1 447.0,145.7 450.0,148.2 453.0,151.2 456.0,152.6 459.7,156.8 462.0,156.4 465.2,160.0 468.0,159.7 470.7,162.3 474.0,161.6 477.7,165.4 480.0,163.2 483.2,162.8 486.0,165.6 490.1,168.8 493.0,167.6 496.0,167.9 499.0,169.2 501.2,168.6 503.5,172.8 505.6,168.3 509.0,171.0 512.0,171.1 516.2,169.4 520.0,172.7 522.4,173.4 524.7,174.1 528.0,174.0 531.0,175.5 533.9,176.0 536.7,176.9 540.0,176.3 542.5,175.8 545.0,176.7 547.9,176.0 550.8,178.3 555.0,177.5 557.8,177.1 560.6,173.6 565.0,179.0 567.5,179.1 570.0,179.0 572.5,180.0 575.0,179.9 577.5,178.8 580.0,179.7 582.5,179.0 585.0,180.1 588.9,178.3 593.0,180.6 597.3,183.0 601.0,181.0 605.0,183.1 607.5,182.1 610.0,181.5 612.4,181.3 614.8,177.7 619.0,183.9 622.6,180.4 625.3,183.1 628.0,183.1 630.5,182.7 633.1,179.6 635.5,182.2 638.0,184.4 642.0,184.6 644.5,183.1 647.0,184.8 649.5,185.2 652.0,184.9 654.5,183.2 657.0,184.0 660.2,183.2 663.5,186.4 665.8,183.0 668.0,184.2 670.5,183.7 673.0,184.7 675.3,183.9 677.7,183.6 680.0,184.9 683.0,183.9 686.0,184.9 689.0,184.2 692.0,185.0 694.3,184.5 696.7,184.8 699.0,184.7" fill="none" stroke="#111" stroke-width="1.6" stroke-linejoin="round"/><polyline points="424.4,47.5 424.5,49.2 424.5,50.8 424.5,52.3 424.6,53.8 424.6,55.2 424.7,56.5 424.7,57.8 424.8,59.0 424.8,60.2 424.9,61.3 424.9,62.4 425.0,63.4 425.0,64.4 425.1,65.3 425.1,66.3 425.1,67.1 425.2,68.0 425.2,68.8 425.3,69.6 425.3,70.4 425.4,71.1 425.4,71.8 425.5,72.5 425.5,73.2 425.6,73.9 425.6,74.5 425.7,75.1 425.7,75.7 425.7,76.3 425.8,76.9 425.8,77.4 425.9,78.0 425.9,78.5 426.0,79.0 426.0,79.5 426.1,80.0 426.1,80.5 426.2,81.0 426.6,85.3 427.1,89.0 427.5,92.3 428.0,95.3 428.5,98.1 428.9,100.8 429.4,103.2 429.8,105.6 430.3,107.8 430.8,109.9 431.2,111.9 431.7,113.8 432.1,115.6 432.6,117.3 433.1,118.9 433.5,120.5 434.0,122.0 434.4,123.4 434.9,124.7 435.4,126.0 435.8,127.2 436.3,128.4 436.7,129.5 437.2,130.5 437.7,131.5 438.1,132.5 438.6,133.4 439.0,134.3 439.5,135.2 440.0,136.0 440.4,136.7 440.9,137.5 441.3,138.2 441.8,138.9 442.3,139.6 442.7,140.2 443.2,140.8 443.6,141.4 444.1,142.0 444.6,142.5 446.4,144.6 448.2,146.4 450.1,148.0 451.9,149.4 453.8,150.7 455.6,151.9 457.4,153.0 459.3,154.0 461.1,155.0 463.0,155.9 464.8,156.8 466.6,157.6 468.5,158.4 470.3,159.1 472.2,159.9 474.0,160.6 475.8,161.3 477.7,161.9 479.5,162.5 481.4,163.2 483.2,163.8 485.0,164.3 486.9,164.9 488.7,165.4 490.6,166.0 492.4,166.5 494.2,167.0 496.1,167.5 497.9,167.9 499.8,168.4 501.6,168.8 503.4,169.3 505.3,169.7 507.1,170.1 509.0,170.5 510.8,170.9 512.6,171.2 514.5,171.6 516.3,172.0 518.2,172.3 520.0,172.7 521.8,173.0 523.7,173.3 525.5,173.6 527.4,173.9 529.2,174.2 531.0,174.5 532.9,174.8 534.7,175.0 536.6,175.3 538.4,175.5 540.2,175.8 542.1,176.0 543.9,176.3 545.8,176.5 547.6,176.7 549.4,176.9 551.3,177.1 553.1,177.3 555.0,177.5 556.8,177.7 558.6,177.9 560.5,178.1 562.3,178.3 564.2,178.4 566.0,178.6 567.8,178.8 569.7,178.9 571.5,179.1 573.4,179.2 575.2,179.4 577.0,179.5 578.9,179.7 580.7,179.8 582.6,179.9 584.4,180.0 586.2,180.2 588.1,180.3 589.9,180.4 591.8,180.5 593.6,180.6 595.4,180.7 597.3,180.8 599.1,180.9 601.0,181.0 602.8,181.1 604.6,181.2 606.5,181.3 608.3,181.4 610.2,181.5 612.0,181.6 613.8,181.6 615.7,181.7 617.5,181.8 619.4,181.9 621.2,182.0 623.0,182.0 624.9,182.1 626.7,182.2 628.6,182.2 630.4,182.3 632.2,182.3 634.1,182.4 635.9,182.5 637.8,182.5 639.6,182.6 641.4,182.6 643.3,182.7 645.1,182.7 647.0,182.8 648.8,182.8 650.6,182.9 652.5,182.9 654.3,183.0 656.2,183.0 658.0,183.0 659.8,183.1 661.7,183.1 663.5,183.2 665.4,183.2 667.2,183.2 669.0,183.3 670.9,183.3 672.7,183.3 674.6,183.4 676.4,183.4 678.2,183.4 680.1,183.5 681.9,183.5 683.8,183.5 685.6,183.5 687.4,183.6 689.3,183.6 691.1,183.6 693.0,183.6 694.8,183.7 696.6,183.7 698.5,183.7 700.3,183.7" fill="none" stroke="#f00" stroke-width="2.2"/></g>
<rect x="414.5" y="20.5" width="284.5" height="194.4" fill="none" stroke="#3c3c3c" stroke-width="1.1"/>
<text x="407.6" y="211.6" text-anchor="end" class="tl">0.000</text>
<text x="407.6" y="180.3" text-anchor="end" class="tl">0.005</text>
<text x="407.6" y="149.0" text-anchor="end" class="tl">0.010</text>
<text x="407.6" y="117.7" text-anchor="end" class="tl">0.015</text>
<text x="407.6" y="86.3" text-anchor="end" class="tl">0.020</text>
<text x="407.6" y="55.0" text-anchor="end" class="tl">0.025</text>
<text x="407.6" y="23.7" text-anchor="end" class="tl">0.030</text>
<text x="423.4" y="230.6" text-anchor="middle" class="tl">0</text>
<text x="469.4" y="230.6" text-anchor="middle" class="tl">50</text>
<text x="515.4" y="230.6" text-anchor="middle" class="tl">100</text>
<text x="561.4" y="230.6" text-anchor="middle" class="tl">150</text>
<text x="607.4" y="230.6" text-anchor="middle" class="tl">200</text>
<text x="653.4" y="230.6" text-anchor="middle" class="tl">250</text>
<text x="699.4" y="230.6" text-anchor="middle" class="tl">300</text>
<g stroke="#3c3c3c" stroke-width="1.1"><line x1="410.5" y1="208.3" x2="414.5" y2="208.3"/><line x1="412.5" y1="192.6" x2="414.5" y2="192.6"/><line x1="410.5" y1="177.0" x2="414.5" y2="177.0"/><line x1="412.5" y1="161.3" x2="414.5" y2="161.3"/><line x1="410.5" y1="145.7" x2="414.5" y2="145.7"/><line x1="412.5" y1="130.0" x2="414.5" y2="130.0"/><line x1="410.5" y1="114.4" x2="414.5" y2="114.4"/><line x1="412.5" y1="98.7" x2="414.5" y2="98.7"/><line x1="410.5" y1="83.0" x2="414.5" y2="83.0"/><line x1="412.5" y1="67.4" x2="414.5" y2="67.4"/><line x1="410.5" y1="51.7" x2="414.5" y2="51.7"/><line x1="412.5" y1="36.1" x2="414.5" y2="36.1"/><line x1="410.5" y1="20.4" x2="414.5" y2="20.4"/><line x1="423.4" y1="214.9" x2="423.4" y2="218.9"/><line x1="446.4" y1="214.9" x2="446.4" y2="216.9"/><line x1="469.4" y1="214.9" x2="469.4" y2="218.9"/><line x1="492.4" y1="214.9" x2="492.4" y2="216.9"/><line x1="515.4" y1="214.9" x2="515.4" y2="218.9"/><line x1="538.4" y1="214.9" x2="538.4" y2="216.9"/><line x1="561.4" y1="214.9" x2="561.4" y2="218.9"/><line x1="584.4" y1="214.9" x2="584.4" y2="216.9"/><line x1="607.4" y1="214.9" x2="607.4" y2="218.9"/><line x1="630.4" y1="214.9" x2="630.4" y2="216.9"/><line x1="653.4" y1="214.9" x2="653.4" y2="218.9"/><line x1="676.4" y1="214.9" x2="676.4" y2="216.9"/><line x1="699.4" y1="214.9" x2="699.4" y2="218.9"/></g>
<text x="416" y="12" class="pl">B</text>
<text transform="translate(364,112.8) rotate(-90)" text-anchor="middle" class="yl">ΔA</text>
<text x="556.5" y="249.3" class="xl">t / ps</text>
<g class="tau">
<text x="499.4" y="119.3">τ</text><text x="505.0" y="122.1" class="sb">1</text><text x="511.3" y="119.3">=</text><text x="522.5" y="119.3">0.8</text><text x="542.6" y="119.3" class="ps">ps</text>
<text x="499.4" y="139.0">τ</text><text x="505.0" y="141.8" class="sb">2</text><text x="511.3" y="139.0">=</text><text x="522.5" y="139.0">8.3</text><text x="542.6" y="139.0" class="ps">ps</text>
<text x="499.4" y="158.8">τ</text><text x="505.0" y="161.6" class="sb">3</text><text x="511.3" y="158.8">=</text><text x="522.8" y="158.8">71.6</text><text x="548.5" y="158.8" class="ps">ps</text>
</g>
</svg></body></html>
